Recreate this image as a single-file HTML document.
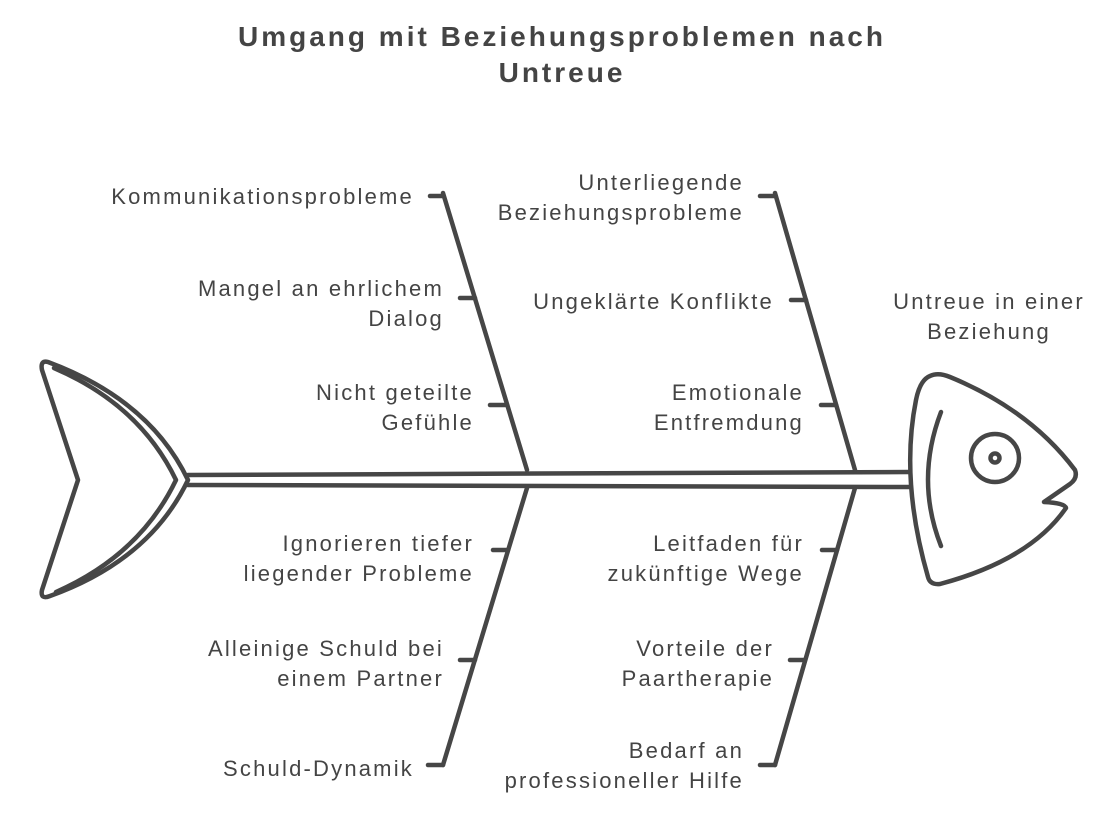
<!DOCTYPE html>
<html><head><meta charset="utf-8"><style>
body{margin:0;background:#fff;}
svg text{font-family:"Liberation Sans",sans-serif;fill:#444;}
</style></head><body>
<svg width="1113" height="810" viewBox="0 0 1113 810" xmlns="http://www.w3.org/2000/svg">
<g stroke="#464646" stroke-width="4.5" fill="none" stroke-linecap="round" stroke-linejoin="round">
<path d="M48,362 Q40,360 42,370 L78,480 L42,590 Q40,600 50,596 Q150,560 188,480 Q150,400 48,362 Z"/>
<path d="M54,368 Q140,405 176,480 Q140,555 56,592"/>
<path d="M188,475 L910,472"/>
<path d="M188,485 L910,487"/>
<path d="M443,193 L527,470"/><path d="M430,196 L443,196"/><path d="M460,298 L475,298"/><path d="M490,405 L507,405"/>
<path d="M775,193 L855,470"/><path d="M760,196 L775,196"/><path d="M791,300 L806,300"/><path d="M821,405 L836,405"/>
<path d="M527,488 L443,765"/><path d="M493,550 L508,550"/><path d="M460,660 L475,660"/><path d="M428,765 L443,765"/>
<path d="M855,488 L775,765"/><path d="M822,550 L837,550"/><path d="M790,660 L805,660"/><path d="M760,765 L775,765"/>
<path d="M930,376 Q938,372 950,377 Q1030,410 1075,470 Q1078,478 1070,484 L1044,502 Q1065,503 1066,508 Q1030,560 940,584 Q930,585 928,577 Q900,480 916,400 Q920,380 930,376 Z"/>
<path d="M941,412 Q915,480 941,546"/>
<circle cx="995" cy="458" r="24"/>
<circle cx="995" cy="458" r="4.5"/>
</g>
<g font-size="28" text-anchor="middle" font-weight="bold" letter-spacing="3">
<text x="562" y="46">Umgang mit Beziehungsproblemen nach</text>
<text x="562" y="82">Untreue</text>
</g>
<g font-size="22" text-anchor="end" letter-spacing="2.2">
<text x="414" y="204">Kommunikationsprobleme</text>
<text x="444" y="296">Mangel an ehrlichem</text><text x="444" y="326">Dialog</text>
<text x="474" y="400">Nicht geteilte</text><text x="474" y="430">Gefühle</text>
<text x="744" y="190">Unterliegende</text><text x="744" y="220">Beziehungsprobleme</text>
<text x="774" y="309">Ungeklärte Konflikte</text>
<text x="804" y="400">Emotionale</text><text x="804" y="430">Entfremdung</text>
<text x="474" y="551">Ignorieren tiefer</text><text x="474" y="581">liegender Probleme</text>
<text x="444" y="656">Alleinige Schuld bei</text><text x="444" y="686">einem Partner</text>
<text x="414" y="776">Schuld-Dynamik</text>
<text x="804" y="551">Leitfaden für</text><text x="804" y="581">zukünftige Wege</text>
<text x="774" y="656">Vorteile der</text><text x="774" y="686">Paartherapie</text>
<text x="744" y="758">Bedarf an</text><text x="744" y="788">professioneller Hilfe</text>
</g>
<g font-size="22" text-anchor="middle" letter-spacing="2.2">
<text x="989" y="309">Untreue in einer</text><text x="989" y="339">Beziehung</text>
</g>
</svg>
</body></html>
